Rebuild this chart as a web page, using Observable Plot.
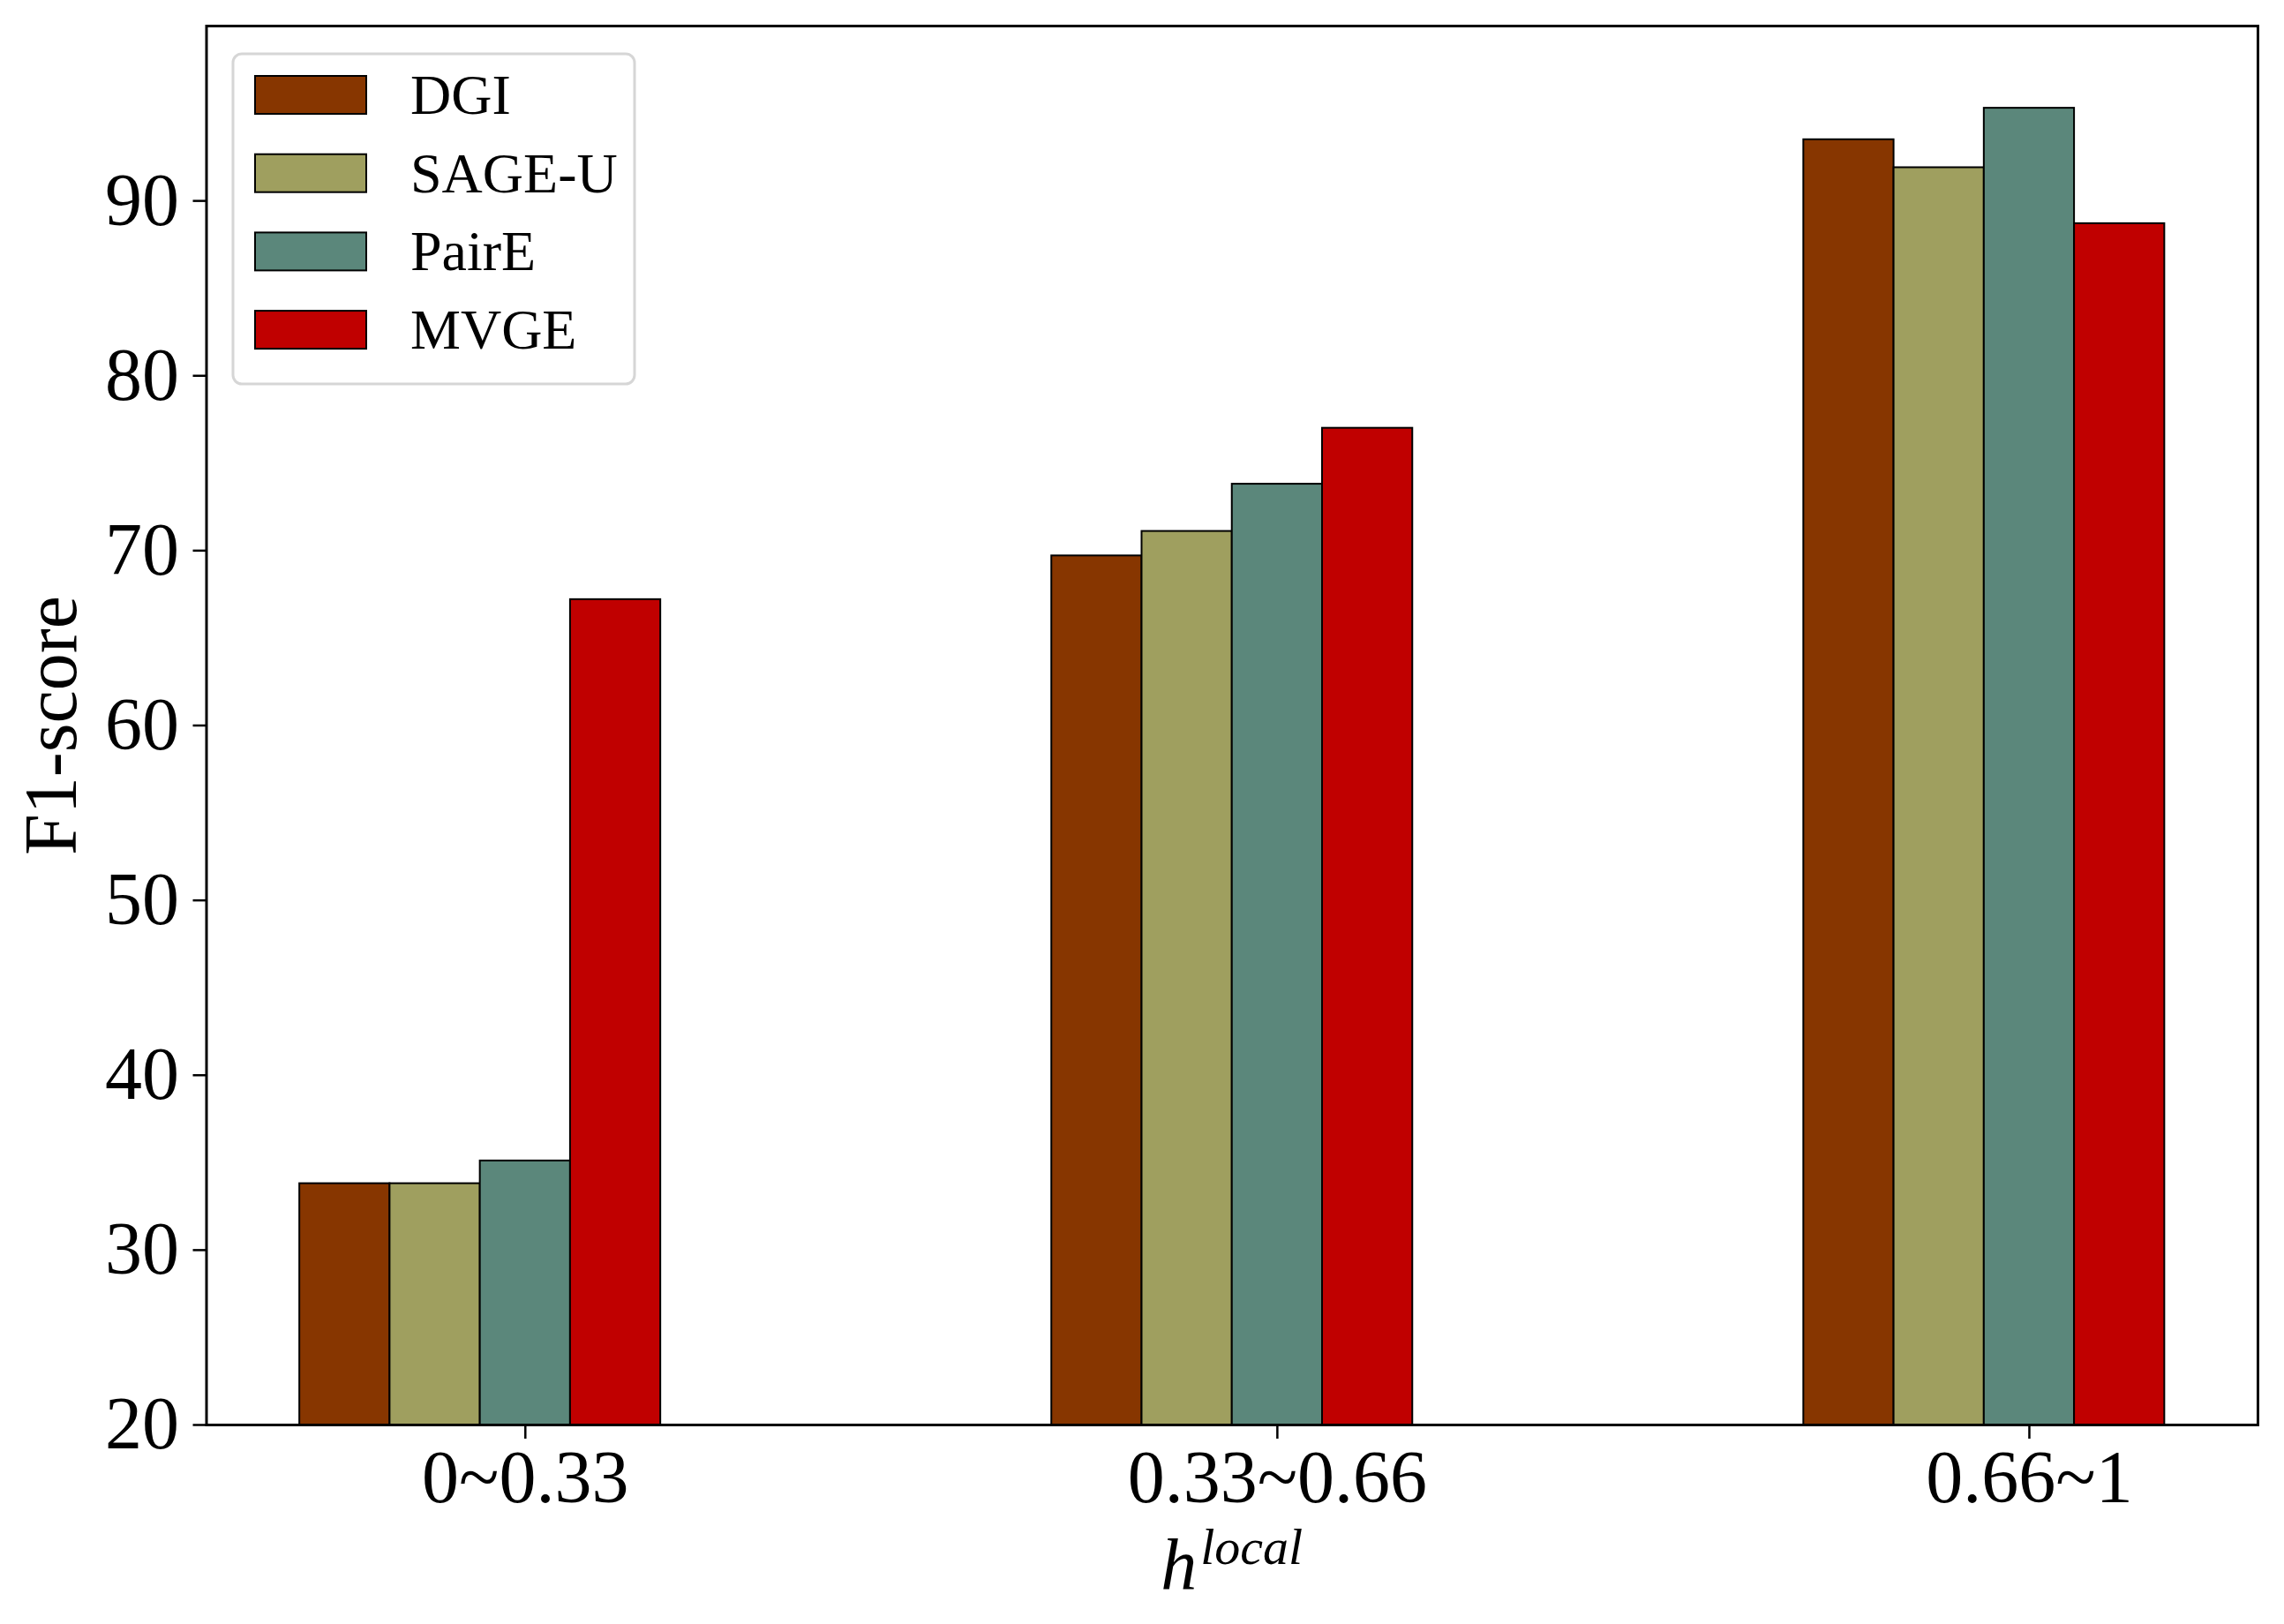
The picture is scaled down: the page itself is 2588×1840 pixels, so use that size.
<!DOCTYPE html>
<html>
<head>
<meta charset="utf-8">
<script src="https://cdn.jsdelivr.net/npm/d3@7"></script>
<script src="https://cdn.jsdelivr.net/npm/@observablehq/plot@0.6"></script>
<style>
  html, body { margin: 0; padding: 0; background: white; }
  #chart { position: relative; width: 2588px; height: 1840px; }
</style>
</head>
<body>
<div id="chart"></div>
<script>
// ---- data ----
const categories = ["0~0.33", "0.33~0.66", "0.66~1"];
const methods = ["DGI", "SAGE-U", "PairE", "MVGE"];
const colors = ["#873600", "#9f9f5f", "#5b877b", "#c00000"];
const dgi   = [33.8, 69.7, 93.5];
const sageU = [33.8, 71.1, 91.9];
const pairE = [35.1, 73.8, 95.3];
const mvge  = [67.2, 77.0, 88.7];
const yTicks = [20, 30, 40, 50, 60, 70, 80, 90];
const xLabel = "h";
const xLabelSup = "local";
const yLabel = "F1-score";

const series = [dgi, sageU, pairE, mvge];
const W = 0.12; // bar width in group units
const table = [];
series.forEach((vals, k) => {
  vals.forEach((v, g) => table.push({ g, k, method: methods[k], v }));
});

const FONT = "'Liberation Serif', 'Times New Roman', serif";

const svg = Plot.plot({
  width: 2588,
  height: 1840,
  marginLeft: 233.5,
  marginRight: 30,
  marginTop: 29,
  marginBottom: 226,
  style: { fontFamily: FONT, background: "white", color: "black", overflow: "visible" },
  x: { domain: [-0.424, 2.304] },
  y: { domain: [20, 100] },
  color: { domain: methods, range: colors },
  marks: [
    Plot.rectY(table, {
      x1: d => d.g + (d.k - 2) * W - W / 2,
      x2: d => d.g + (d.k - 2) * W + W / 2,
      y1: 20,
      y2: "v",
      fill: "method",
      stroke: "black",
      strokeWidth: 2
    }),
    Plot.frame({ stroke: "black", strokeWidth: 3 }),
    Plot.axisY({ ticks: yTicks, tickSize: 15, tickPadding: 16, fontSize: 84, label: null, strokeWidth: 2.5 }),
    Plot.axisX({ ticks: [0, 1, 2], tickFormat: i => categories[i], tickSize: 16, tickPadding: 12, fontSize: 84, label: null, strokeWidth: 2.5 }),
    Plot.text([yLabel], { text: d => d, frameAnchor: "left", textAnchor: "middle", lineAnchor: "middle", dx: -175, rotate: -90, fontSize: 84, fill: "black" })
  ]
});

document.getElementById("chart").appendChild(svg);

// ---- x label with superscript ----
const s = d3.select(svg);
const xl = s.append("text")
  .attr("x", (233.5 + 2558) / 2)
  .attr("y", 1800)
  .attr("text-anchor", "middle")
  .attr("font-family", FONT)
  .attr("font-style", "italic")
  .attr("fill", "black");
xl.append("tspan").attr("font-size", 82).text(xLabel);
xl.append("tspan").attr("font-size", 58).attr("dy", -28).attr("dx", 4).text(xLabelSup);

// ---- legend ----
const lg = s.append("g").attr("text-anchor", "start");
lg.append("rect")
  .attr("x", 264).attr("y", 61).attr("width", 455).attr("height", 374)
  .attr("rx", 10).attr("ry", 10)
  .attr("fill", "white").attr("fill-opacity", 0.8)
  .attr("stroke", "#d6d6d6").attr("stroke-width", 3);
methods.forEach((m, i) => {
  const top = 86 + i * 88.7;
  lg.append("rect")
    .attr("x", 289).attr("y", top).attr("width", 126).attr("height", 43)
    .attr("fill", colors[i]).attr("stroke", "black").attr("stroke-width", 2);
  lg.append("text")
    .attr("x", 465).attr("y", top + 43)
    .attr("text-anchor", "start")
    .attr("font-family", FONT).attr("font-size", 64).attr("fill", "black")
    .text(m);
});
</script>
</body>
</html>
